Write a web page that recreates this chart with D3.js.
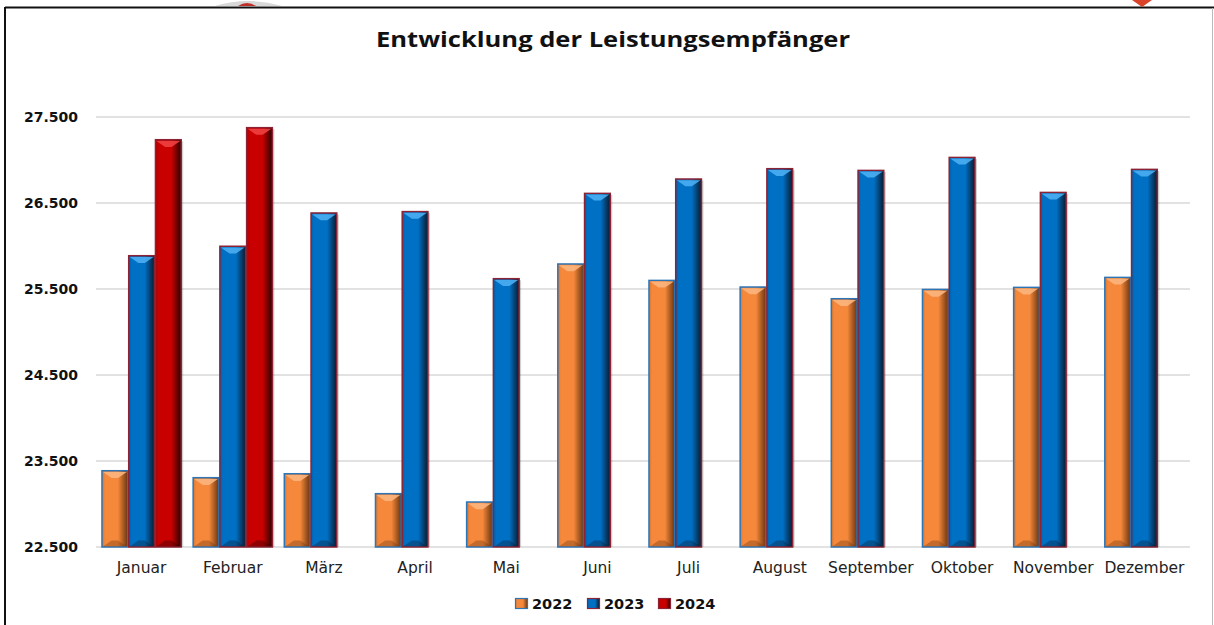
<!DOCTYPE html>
<html>
<head>
<meta charset="utf-8">
<script src="https://cdn.jsdelivr.net/npm/d3@7"></script>
<style>
  body { margin: 0; background: #fff; }
  svg { display: block; }
</style>
</head>
<body>
<div id="chart"></div>
<script>
// Chart data
const months = ['Januar', 'Februar', 'März', 'April', 'Mai', 'Juni', 'Juli', 'August', 'September', 'Oktober', 'November', 'Dezember']
const seriesNames = ['2022', '2023', '2024']
const values2022 = [23387, 23306, 23352, 23120, 23023, 25791, 25600, 25523, 25387, 25495, 25519, 25635]
const values2023 = [25887, 25997, 26384, 26400, 25620, 26612, 26779, 26899, 26879, 27030, 26623, 26891]
const values2024 = [27236, 27376, null, null, null, null, null, null, null, null, null, null]
const yTicks = [22500, 23500, 24500, 25500, 26500, 27500]

const width = 1214
const height = 625
const plotLeft = 96
const plotRight = 1190
const plotTop = 117
const plotBottom = 547

const styles = {
    '2022': { fill: '#F5883A', light: '#FBB57E', dark: '#6B3510', stroke: '#2E75B6' },
    '2023': { fill: '#0070C4', light: '#4AAEF2', dark: '#0B1A2E', stroke: '#8B2335' },
    '2024': { fill: '#C80000', light: '#F04040', dark: '#2A0000', stroke: '#8B2335' }
}

let svg = d3.select('#chart')
            .append('svg')
            .attr('width', width)
            .attr('height', height)

let defs = svg.append('defs')
seriesNames.forEach((name) => {
    let s = styles[name]
    let grad = defs.append('linearGradient')
        .attr('id', 'grad' + name)
        .attr('x1', '0%').attr('x2', '100%')
        .attr('y1', '0%').attr('y2', '0%')
    grad.append('stop').attr('offset', '0%').attr('stop-color', d3.color(s.fill).darker(0.4))
    grad.append('stop').attr('offset', '12%').attr('stop-color', s.fill)
    grad.append('stop').attr('offset', '62%').attr('stop-color', s.fill)
    grad.append('stop').attr('offset', '100%').attr('stop-color', s.dark)
})

// Frame
svg.append('line')
    .attr('x1', 5).attr('x2', width)
    .attr('y1', 7.5).attr('y2', 7.5)
    .attr('stroke', '#111').attr('stroke-width', 2)
svg.append('line')
    .attr('x1', 5).attr('x2', 5)
    .attr('y1', 7).attr('y2', height)
    .attr('stroke', '#111').attr('stroke-width', 2)
svg.append('line')
    .attr('x1', 1212.5).attr('x2', 1212.5)
    .attr('y1', 8).attr('y2', height)
    .attr('stroke', '#bbb').attr('stroke-width', 1)

// Bits of neighbouring artwork peeking above the frame
svg.append('path')
    .attr('d', 'M 215 6 Q 248 -4 282 6 Z')
    .attr('fill', '#d8d8d8')
svg.append('path')
    .attr('d', 'M 238 6 Q 247 0 256 6 Z')
    .attr('fill', '#c0302a')
svg.append('path')
    .attr('d', 'M 1132 0 L 1152 0 L 1142 7 Z')
    .attr('fill', '#d9442a')

// Title
svg.append('text')
    .attr('x', 613)
    .attr('y', 47)
    .attr('text-anchor', 'middle')
    .attr('font-family', 'Open Sans, sans-serif')
    .attr('font-weight', 700)
    .attr('font-size', '22px')
    .attr('textLength', 474)
    .attr('lengthAdjust', 'spacingAndGlyphs')
    .attr('fill', '#111')
    .text('Entwicklung der Leistungsempfänger')

// Scales
let xScale = d3.scaleBand()
    .domain(months)
    .range([plotLeft, plotRight])
    .paddingInner(0.12)
    .paddingOuter(0.06)

let xInner = d3.scaleBand()
    .domain(seriesNames)
    .range([0, xScale.bandwidth()])

let yScale = d3.scaleLinear()
    .domain([22500, 27500])
    .range([plotBottom, plotTop])

// Gridlines
svg.append('g')
    .selectAll('line')
    .data(yTicks)
    .enter()
    .append('line')
    .attr('x1', plotLeft)
    .attr('x2', plotRight)
    .attr('y1', (d) => yScale(d))
    .attr('y2', (d) => yScale(d))
    .attr('stroke', '#d9d9d9')
    .attr('stroke-width', 1.5)

// Y axis
let yAxis = d3.axisLeft(yScale)
    .tickValues(yTicks)
    .tickSize(0)
    .tickPadding(0)
    .tickFormat((d) => d3.format(',')(d).replace(',', '.'))

svg.append('g')
    .attr('class', 'y-axis')
    .attr('transform', 'translate(78,0)')
    .call(yAxis)
    .call((g) => g.select('.domain').remove())
    .selectAll('text')
    .attr('font-family', 'DejaVu Sans, sans-serif')
    .attr('font-weight', 700)
    .attr('font-size', '14px')
    .attr('fill', '#111')

// X axis
let xAxis = d3.axisBottom(xScale)
    .tickSize(0)
    .tickPadding(0)

svg.append('g')
    .attr('class', 'x-axis')
    .attr('transform', 'translate(0,' + (plotBottom + 15) + ')')
    .call(xAxis)
    .call((g) => g.select('.domain').remove())
    .selectAll('text')
    .attr('dy', '0.71em')
    .attr('font-family', 'DejaVu Sans, sans-serif')
    .attr('font-size', '15.5px')
    .attr('fill', '#222')

// Bars
let rows = []
months.forEach((m, i) => {
    let vals = [values2022[i], values2023[i], values2024[i]]
    seriesNames.forEach((s, j) => {
        if (vals[j] !== null) {
            rows.push({ month: m, series: s, value: vals[j] })
        }
    })
})

let bars = svg.append('g').selectAll('g')
    .data(rows)
    .enter()
    .append('g')
    .attr('transform', (d) => 'translate(' + (xScale(d.month) + xInner(d.series)) + ',0)')

let bw = xInner.bandwidth()

// soft shadow
bars.append('rect')
    .attr('x', 1.5)
    .attr('y', (d) => yScale(d.value) + 1.5)
    .attr('width', bw)
    .attr('height', (d) => plotBottom - yScale(d.value) - 1.5)
    .attr('fill', 'rgba(0,0,0,0.18)')

bars.append('rect')
    .attr('x', 0.5)
    .attr('y', (d) => yScale(d.value))
    .attr('width', bw - 1)
    .attr('height', (d) => plotBottom - yScale(d.value))
    .attr('fill', (d) => 'url(#grad' + d.series + ')')
    .attr('stroke', (d) => styles[d.series].stroke)
    .attr('stroke-width', 1.5)

// top bevel
bars.append('path')
    .attr('d', (d) => {
        let y = yScale(d.value) + 1.2
        return 'M 1.5 ' + y + ' L ' + (bw - 1.5) + ' ' + y +
            ' L ' + (bw * 0.62) + ' ' + (y + 6) + ' L ' + (bw * 0.38) + ' ' + (y + 6) + ' Z'
    })
    .attr('fill', (d) => styles[d.series].light)
    .attr('opacity', 0.9)

// bottom bevel
bars.append('path')
    .attr('d', () => {
        let y = plotBottom - 0.5
        return 'M 1.5 ' + y + ' L ' + (bw - 1.5) + ' ' + y +
            ' L ' + (bw * 0.62) + ' ' + (y - 6) + ' L ' + (bw * 0.38) + ' ' + (y - 6) + ' Z'
    })
    .attr('fill', (d) => styles[d.series].dark)
    .attr('opacity', 0.35)

// Legend
let legendX = [515, 587, 658]
let legend = svg.append('g').selectAll('g')
    .data(seriesNames)
    .enter()
    .append('g')
    .attr('transform', (d, i) => 'translate(' + legendX[i] + ',598)')

legend.append('rect')
    .attr('x', 0.5)
    .attr('y', 0.5)
    .attr('width', 12)
    .attr('height', 10)
    .attr('fill', (d) => 'url(#grad' + d + ')')
    .attr('stroke', (d) => styles[d].stroke)
    .attr('stroke-width', 1.2)

legend.append('text')
    .attr('x', 17)
    .attr('y', 11)
    .attr('font-family', 'DejaVu Sans, sans-serif')
    .attr('font-weight', 700)
    .attr('font-size', '14.5px')
    .attr('fill', '#111')
    .text((d) => d)
</script>
</body>
</html>
